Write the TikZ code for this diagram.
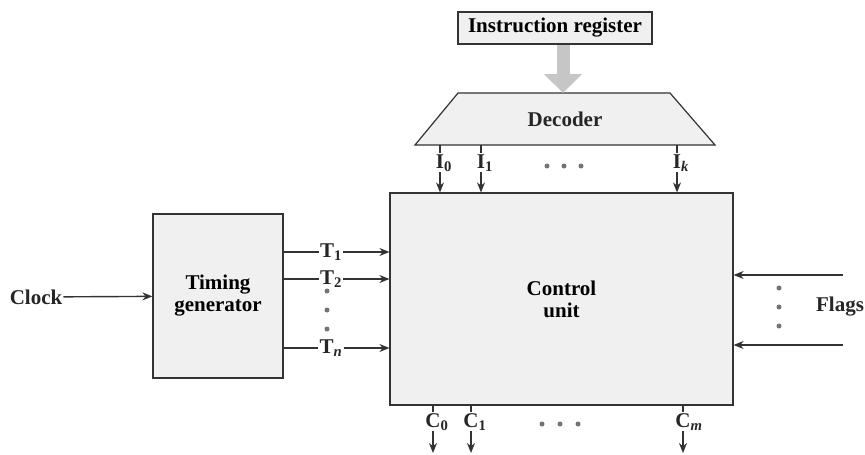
\documentclass[tikz,border=0pt]{standalone}
\usepackage{fontspec}
\setmainfont{Liberation Serif}
\usetikzlibrary{arrows.meta}
\newcommand{\lblfont}{\fontsize{21}{22}\selectfont\bfseries}
\begin{document}
\begin{tikzpicture}[
  x=1pt, y=-1pt,
  box/.style={draw=black!80, rectangle, fill=gray!12, align=center, font=\lblfont,
    inner sep=0pt, line width=1.2pt},
  lbl/.style={font=\lblfont, text=black!85, inner sep=1pt},
  wire/.style={line width=1.4pt, draw=black!80},
  arrow/.style={wire, -{Stealth[length=10pt, width=8pt]}},
  bus/.style={draw=gray!45, line width=13pt, -{Triangle[length=19pt, width=37pt]}},
  dot/.style={circle, fill=black!55, inner sep=0pt, minimum size=5pt}]
  \useasboundingbox (0,0) rectangle (865,455);
  % Instruction register and decoder
  \node[box, minimum width=194pt, minimum height=32pt] (ir) at (555,28) {Instruction register};
  \draw[box] (415,145) -- (458,93) -- (670,93) -- (715,145) -- cycle;
  \coordinate (dectop) at (563,93);
  \coordinate (decbot) at (565,145);
  \node[lbl] (dec) at (565,119) {Decoder};
  \draw[bus] (ir.south -| dectop) -- (dectop);
  % Timing generator and control unit
  \node[box, minimum width=130pt, minimum height=164pt] (tg) at (218,296) {Timing\\generator};
  \node[box, minimum width=343pt, minimum height=212pt] (cu) at (561.5,299) {Control\\unit};
  \node[lbl] (clock) at (36,297) {Clock};
  \draw[arrow] (clock) -- (tg);
  % decoder outputs
  \node[lbl, anchor=base] (i0) at (440,168) {I\rlap{\textsubscript{0}}};
  \node[lbl, anchor=base] (i1) at (481,168) {I\rlap{\textsubscript{1}}};
  \node[lbl, anchor=base] (ik) at (677,168) {I\rlap{\textsubscript{\textit{k}}}};
  \foreach \n in {i0,i1,ik} {
    \draw[wire] (\n |- decbot) -- (\n.north);
    \draw[arrow] (\n.south) -- (\n |- cu.north);
  }
  \foreach \x in {547,564,581} \node[dot] at (\x,166) {};
  % timing signals
  \node[lbl] (t1) at (331,252) {T\textsubscript{1}};
  \node[lbl] (t2) at (331,279) {T\textsubscript{2}};
  \node[lbl] (tn) at (331,348) {T\textsubscript{\textit{n}}};
  \foreach \n in {t1,t2,tn} {
    \draw[wire] (tg.east |- \n) -- (\n.west);
    \draw[arrow] (\n.east) -- (cu.west |- \n);
  }
  \foreach \y in {291,310,329} \node[dot] at (327,\y) {};
  % flags
  \node[lbl] (flags) at (840,307) {Flags};
  \coordinate (f1) at (843,275);
  \coordinate (f2) at (843,345);
  \draw[arrow] (f1) -- (cu.east |- f1);
  \draw[arrow] (f2) -- (cu.east |- f2);
  \foreach \y in {288,307,326} \node[dot] at (779,\y) {};
  % control outputs
  \node[lbl, anchor=base] (c0) at (433,427) {C\rlap{\textsubscript{0}}};
  \node[lbl, anchor=base] (c1) at (471,427) {C\rlap{\textsubscript{1}}};
  \node[lbl, anchor=base] (cm) at (683,427) {C\rlap{\textsubscript{\textit{m}}}};
  \coordinate (cend) at (561,453);
  \foreach \n in {c0,c1,cm} {
    \draw[wire] (\n |- cu.south) -- (\n.north);
    \draw[arrow] (\n.south) -- (\n |- cend);
  }
  \foreach \x in {542,560,578} \node[dot] at (\x,424) {};
\end{tikzpicture}
\end{document}
